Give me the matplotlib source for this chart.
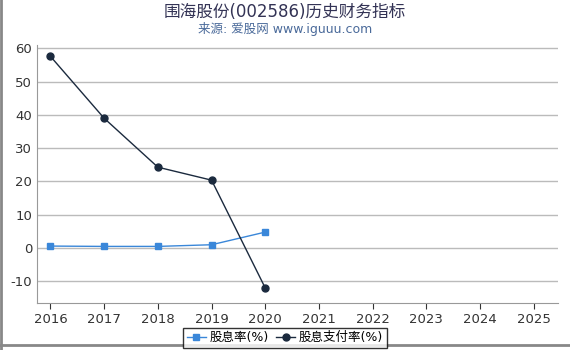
import matplotlib.pyplot as plt

plt.rcParams['font.family'] = ['DejaVu Sans', 'Noto Sans CJK SC']
plt.rcParams['axes.unicode_minus'] = False

years = [2016, 2017, 2018, 2019, 2020]
all_years = list(range(2016, 2026))
dividend_yield = [0.6, 0.5, 0.5, 1.0, 4.8]
payout_ratio = [57.6, 39.0, 24.3, 20.4, -12.0]

fig = plt.figure(figsize=(5.7, 3.5), dpi=100, facecolor='w')
ax = fig.add_axes([37 / 570, 47 / 350, 521 / 570, 258 / 350])

ax.plot(years, dividend_yield, color='#3a87d9', marker='s', markersize=5, linewidth=1, label='股息率(%)')
ax.plot(years, payout_ratio, color='#1b2a3e', marker='o', markersize=5, linewidth=1, label='股息支付率(%)')

ax.set_xlim(2015.75, 2025.45)
ax.set_ylim(-16.5, 61)
ax.set_xticks(all_years)
ax.set_yticks([-10, 0, 10, 20, 30, 40, 50, 60])
ax.grid(axis='y', color='#bbbbbb', linewidth=1)
ax.set_axisbelow(True)
for s in ['top', 'right']:
    ax.spines[s].set_visible(False)
ax.spines['left'].set_color('#999999')
ax.spines['bottom'].set_color('#999999')
ax.tick_params(axis='y', length=0, labelsize=9.5, colors='#333333')
ax.tick_params(axis='x', length=4, labelsize=9.5, colors='#333333')

fig.text(0.5, 0.965, '围海股份(002586)历史财务指标', ha='center', va='center', fontsize=12, color='#333355')
fig.text(0.5, 0.918, '来源: 爱股网 www.iguuu.com', ha='center', va='center', fontsize=9, color='#4a6a9a')

leg = fig.legend(loc='center', bbox_to_anchor=(0.5, 0.035), ncol=2, frameon=True, fancybox=False,
                 edgecolor='black', fontsize=9, handlelength=1.5, handletextpad=0.3, columnspacing=0.6,
                 borderpad=0.3)

fig.add_artist(plt.Line2D([0, 1], [0.013, 0.013], color='#888888', linewidth=2, transform=fig.transFigure))
fig.add_artist(plt.Line2D([0.001, 0.001], [0, 1], color='#888888', linewidth=2, transform=fig.transFigure))

fig.savefig('out.png', dpi=100)
